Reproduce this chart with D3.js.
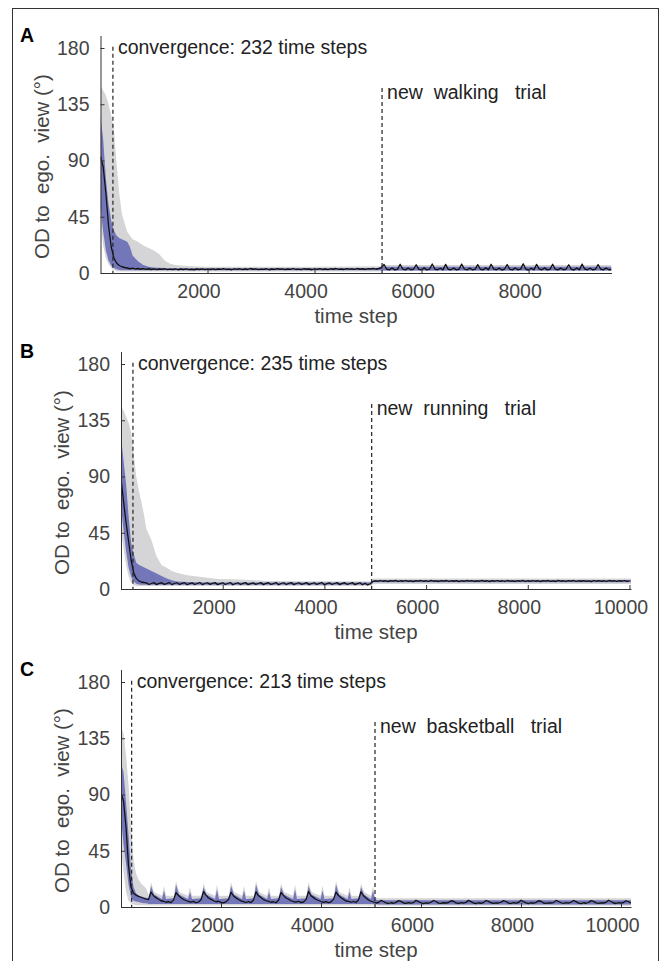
<!DOCTYPE html>
<html>
<head>
<meta charset="utf-8">
<script src="https://cdn.jsdelivr.net/npm/d3@7"></script>
<style>
  body { margin: 0; background: #fff; }
  svg { display: block; }
</style>
</head>
<body>
<svg id="chart" width="668" height="961"></svg>
<script>
const FONT = '"Liberation Sans", Arial, Helvetica, sans-serif';

// mean angle per time step, sampled every 50 steps from t = 0
const meanStep = 50;
const meanA = [93,85,64,38,21,12,8,6,5,4.4,4.0,3.4,3.9,3.2,3.6,3.0,3.5,2.9,3.4,2.8,3.3,2.7,3.2,2.9,3.4,2.7,3.1,2.8,3.3,2.6,3.2,2.8,3.3,2.7,3.0,2.6,3.2,2.8,3.3,2.7,3.1,
  2.8,3.3,2.7,3.2,2.9,3.5,2.8,3.1,2.6,3.3, 2.9,3.4,2.7,3.2,2.8,3.6,3.0,3.3,2.7,3.1,
  2.9,3.4,2.6,3.2,2.8,3.5,3.0,3.3,2.7,3.2, 2.9,3.6,2.8,3.1,2.7,3.4,3.0,3.2,2.6,3.3,
  2.9,3.5,2.8,3.2,2.7,3.4,3.0,3.6,2.9,3.2, 2.8,3.5,3.1,3.3,2.9,3.6,3.0,3.4,2.8,3.5,
  3.2,3.7,3.0,3.6,4.2,
  6.8,3.0,2.6,4.0,2.5,2.9, 7.0,3.1,2.5,3.9,2.6,3.0, 6.6,2.9,2.5,4.1,2.4,3.1, 7.2,3.0,2.6,3.8,2.5,
  6.9,2.9,2.6,4.0,2.5,3.0, 7.1,3.2,2.4,3.9,2.6,2.9, 6.7,3.0,2.5,4.2,2.5, 7.0,3.1,2.6,3.9,2.4,3.0,
  6.8,2.9,2.5,4.0,2.6,3.1, 7.3,3.0,2.4,3.8,2.5, 6.9,3.1,2.6,4.1,2.5,2.9, 7.0,3.0,2.5,3.9,2.6,3.0,
  6.6,2.9,2.4,4.0,2.5, 7.1,3.2,2.6,3.8,2.5,3.0, 6.8,3.0,2.5,4.0,2.6,2.8];

const meanB = [88.5,70,53,38,23,13,8.5,6.5,5.6,5.2,4.9,
  3.6,4.4,5.1, 3.5,4.5,5.0, 3.7,4.3,5.2, 3.5,4.4,5.0, 3.6,4.5,5.1, 3.4,4.3,4.9, 3.6,4.4,5.2, 3.5,4.4,5.0, 3.7,4.5,5.1, 3.5,4.3,5.0,
  3.6,4.4,5.2, 3.4,4.4,5.0, 3.6,4.5,5.1, 3.5,4.3,4.9, 3.7,4.4,5.1, 3.5,4.5,5.0, 3.6,4.3,5.2, 3.4,4.4,5.0, 3.6,4.5,5.1, 3.5,4.4,5.0,
  3.7,4.3,5.1, 3.5,4.4,5.0, 3.6,4.5,5.2, 3.4,4.3,4.9, 3.6,4.4,5.1, 3.5,4.5,5.0, 3.6,4.4,5.1, 3.5,4.3,5.0, 3.4,4.6,3.2,4.2,
  5.8,6.5,6.1,6.8,6.2,6.6,5.9,6.7,6.3,6.9, 6.0,6.6,6.2,6.8,6.1,6.5,5.9,6.7,6.3,6.8,
  6.1,6.6,6.0,6.9,6.2,6.5,6.0,6.7,6.3,6.8, 6.0,6.6,6.2,6.7,5.9,6.6,6.1,6.8,6.3,6.7,
  6.0,6.5,6.2,6.9,6.1,6.6,5.9,6.7,6.2,6.8, 6.1,6.6,6.0,6.8,6.3,6.5,6.0,6.7,6.2,6.9,
  6.0,6.6,6.1,6.8,6.2,6.6,5.9,6.7,6.3,6.8, 6.1,6.5,6.0,6.9,6.2,6.6,6.0,6.7,6.3,6.8,
  6.0,6.6,6.2,6.7,6.1,6.5,5.9,6.8,6.2,6.7, 6.1,6.6,6.0,6.8,6.3,6.6,6.0,6.7,6.2,6.8, 6.1,6.5];

const meanC = [91,85,64,33,16,11,9.5,8.5,7.8,7.0,6.3,
  6.0, 12.0, 9.0,7.5,6.2,5.0,4.6,3.8,4.3,3.5,5.5,
  11.5, 9.2,7.4,6.0,5.2,4.4,3.9,4.5,3.4,4.0,5.8,
  12.3, 9.5,7.2,6.1,5.0,4.2,4.6,3.7,3.3,4.1,6.0,
  11.8, 8.8,7.3,6.0,4.9,4.3,3.6,4.4,3.5,5.6,
  12.1, 9.1,7.6,5.9,5.1,4.5,3.8,4.2,3.4,5.4,
  11.6, 9.3,7.2,6.2,5.0,4.3,3.9,4.6,3.5,4.0,5.9,
  12.4, 9.0,7.5,6.0,5.2,4.4,3.7,4.3,3.4,4.1,6.1,
  11.9, 9.2,7.4,6.1,4.8,4.5,3.8,4.4,3.6,5.7,
  12.2, 9.0,7.2,5.6,4.6,4.0,
  3.2,3.6,5.3,4.4,3.3,2.8,3.4, 3.0,3.7,5.1,4.5,3.2,2.9,3.5, 3.1,3.5,5.4,4.3,3.4,2.7,3.3,
  3.0,3.8,5.2,4.4,3.1,2.9,3.4, 3.2,3.6,5.0,4.6,3.3,2.8,3.5, 3.1,3.7,5.3,4.3,3.2,2.7,3.4,
  3.0,3.5,5.2,4.5,3.4,2.9,3.3, 3.2,3.8,5.1,4.4,3.1,2.8,3.5, 3.1,3.6,5.4,4.3,3.3,2.7,3.4,
  3.0,3.7,5.0,4.6,3.2,2.9,3.3, 3.2,3.5,5.3,4.4,3.4,2.8,3.5, 3.1,3.8,5.2,4.3,3.1,2.7,3.4,
  3.0,3.6,5.1,4.5,3.3,2.9,3.3, 3.2,3.7,5.4,4.4,3.2,2.8,3.5, 3.1,3.6,5.0,4.2,3.3];

// spread bands: grey = full range, blue = inner spread
const bandTA = [0,50,100,150,200,250,300,350,400,450,500,550,600,700,800,900,1000,1100,1200,1300,1400,1500,1700,2000,3000,4000,5200,5300,6000,7000,8000,9000,9550];
const grayHiA = [150,146,142,135,126,115,88,64,47,40,33,30,27,25,22,20,18,15,10,7.5,6.5,6,5.5,5,5,5,5.5,6.5,6.5,6.5,6.5,6.5,6.5];
const grayLoA = [40,22,12,7,4,2.5,1.5,1.2,1.2,1.2,1.2,1.2,1.2,1.2,1.2,1.2,1.2,1.2,1.2,1.2,1.2,1.2,1.2,1.2,1.2,1.2,1.2,1.8,1.8,1.8,1.8,1.8,1.8];
const blueHiA = [125,107,76,55,42,34,30,28,27,26,25,21,14,9.5,6.5,5,4.5,4.2,4,3.9,3.8,3.8,3.8,3.8,3.8,3.8,4,5,5,5,5,5,5];
const blueLoA = [53,33,18,10,6,4,3,2.5,2.3,2.2,2.2,2.2,2.2,2.2,2.2,2.2,2.2,2.2,2.2,2.2,2.2,2.2,2.2,2.2,2.2,2.2,2.2,2,2,2,2,2,2];

const bandTB = [0,50,100,150,200,250,300,350,400,450,500,600,700,800,900,1000,1100,1300,1500,1900,2200,2900,4000,4920,4960,6000,8000,10030];
const grayHiB = [146,143,138,133,125,108,90,79,70,60,48,39,26,19,17,14.5,13,11,10,8,7.8,6.5,6.2,6.2,8.5,8.5,8.5,8.5];
const grayLoB = [47,32,19,10,5,3,2.5,2.5,2.5,2.5,2.5,2.5,2.5,2.5,2.5,2.5,2.5,2.5,2.5,2.5,2.5,2.5,2.5,2.5,4,4,4,4];
const blueHiB = [122,103,84,58,37,28,21,19.5,18.5,17.5,16.5,14.5,12.5,10.5,8.5,7,6,5.6,5.4,5.3,5.3,5.3,5.3,5.3,7.2,7.2,7.2,7.2];
const blueLoB = [66,47,30,17,10,6,4.2,3.7,3.5,3.5,3.5,3.5,3.5,3.5,3.5,3.5,3.5,3.5,3.5,3.5,3.5,3.5,3.5,3.5,5.4,5.4,5.4,5.4];

const bandTC = [0,50,100,150,200,250,300,350,400,450,500,
  560,600,660, 820,860,900, 1060,1100,1160, 1340,1380,1420, 1610,1650,1710, 1880,1920,1960,
  2160,2200,2260, 2420,2460,2500, 2660,2700,2760, 2920,2960,3000, 3160,3200,3260, 3440,3480,3520,
  3710,3750,3810, 3990,4030,4070, 4260,4300,4360, 4530,4570,4610, 4760,4800,4860, 5000,5040,5080,
  5150,10200];
const grayHiC = [144,139,122,98,65,38,27,22,19,17,15,
  9,20,12, 9,17,9, 9,21,12, 9,16,9, 9,19,12, 9,18,9,
  9,20,12, 9,17,9, 9,21,12, 9,16,9, 9,19,12, 9,18,9,
  9,20,12, 9,17,9, 9,21,12, 9,16,9, 9,19,12, 9,17,8,
  7,7];
const grayLoC = [45,28,12,5,3,2,1.5,1.5,1.5,1.5,1.5,
  1.2,1.2,1.2, 1.2,1.2,1.2, 1.2,1.2,1.2, 1.2,1.2,1.2, 1.2,1.2,1.2, 1.2,1.2,1.2,
  1.2,1.2,1.2, 1.2,1.2,1.2, 1.2,1.2,1.2, 1.2,1.2,1.2, 1.2,1.2,1.2, 1.2,1.2,1.2,
  1.2,1.2,1.2, 1.2,1.2,1.2, 1.2,1.2,1.2, 1.2,1.2,1.2, 1.2,1.2,1.2, 1.2,1.2,1.2,
  1,1];
const blueHiC = [115,108,84,58,30,16,11,9.5,8.5,8,7.5,
  7,17,10, 6.5,13,6.5, 7,18,10, 6.5,12,6.5, 7,16,10, 6.5,14,6.5,
  7,17,10, 6.5,13,6.5, 7,18,10, 6.5,12,6.5, 7,16,10, 6.5,14,6.5,
  7,17,10, 6.5,13,6.5, 7,18,10, 6.5,12,6.5, 7,16,10, 6.5,13,6,
  5.5,5.5];
const blueLoC = [72,50,35,18,8,5,4.5,4,3.5,3,3,
  2.5,2.5,2.5, 2.5,2.5,2.5, 2.5,2.5,2.5, 2.5,2.5,2.5, 2.5,2.5,2.5, 2.5,2.5,2.5,
  2.5,2.5,2.5, 2.5,2.5,2.5, 2.5,2.5,2.5, 2.5,2.5,2.5, 2.5,2.5,2.5, 2.5,2.5,2.5,
  2.5,2.5,2.5, 2.5,2.5,2.5, 2.5,2.5,2.5, 2.5,2.5,2.5, 2.5,2.5,2.5, 2.5,2.5,2.5,
  2,2];

const yTicks = [0, 45, 90, 135, 180];
const xTicksA = [2000, 4000, 6000, 8000];
const xTicksBC = [2000, 4000, 6000, 8000, 10000];
const convergence = [232, 235, 213];
const trialStart = [5262, 4930, 5080];
const trialNames = ['walking', 'running', 'basketball'];
const letters = ['A', 'B', 'C'];

const panels = [
  {letter: letters[0], left: 100.5, right: 611.5, base: 273, xMax: 9550, xTicks: xTicksA,
   conv: convergence[0], trial: trialStart[0], name: trialNames[0], mean: meanA,
   bandT: bandTA, grayLo: grayLoA, grayHi: grayHiA, blueLo: blueLoA, blueHi: blueHiA},
  {letter: letters[1], left: 121, right: 631, base: 589, xMax: 10030, xTicks: xTicksBC,
   conv: convergence[1], trial: trialStart[1], name: trialNames[1], mean: meanB,
   bandT: bandTB, grayLo: grayLoB, grayHi: grayHiB, blueLo: blueLoB, blueHi: blueHiB},
  {letter: letters[2], left: 121, right: 631, base: 907, xMax: 10200, xTicks: xTicksBC,
   conv: convergence[2], trial: trialStart[2], name: trialNames[2], mean: meanC,
   bandT: bandTC, grayLo: grayLoC, grayHi: grayHiC, blueLo: blueLoC, blueHi: blueHiC}
];

const svg = d3.select('#chart').attr('font-family', FONT);

// outer frame (bottom edge is cut off in the figure)
svg.append('rect')
  .attr('x', 12.5).attr('y', 8.5).attr('width', 646).attr('height', 1000)
  .attr('fill', 'none').attr('stroke', '#333').attr('stroke-width', 1);

function drawPanel(p) {
  const x = d3.scaleLinear().domain([0, p.xMax]).range([p.left, p.right]);
  const y = d3.scaleLinear().domain([0, 190]).range([p.base, p.base - 237.5]);
  const g = svg.append('g');

  const clipId = 'clip' + p.letter;
  g.append('clipPath').attr('id', clipId).append('rect')
    .attr('x', p.left).attr('y', y(190))
    .attr('width', p.right - p.left).attr('height', p.base - y(190));

  const band = p.bandT.map((t, i) => ({t, gLo: p.grayLo[i], gHi: p.grayHi[i], bLo: p.blueLo[i], bHi: p.blueHi[i]}));
  const plot = g.append('g').attr('clip-path', `url(#${clipId})`);

  plot.append('path').datum(band)
    .attr('fill', '#d5d5d8')
    .attr('d', d3.area().x(d => x(d.t)).y0(d => y(d.gLo)).y1(d => y(d.gHi)));
  plot.append('path').datum(band)
    .attr('fill', '#7377b9')
    .attr('d', d3.area().x(d => x(d.t)).y0(d => y(d.bLo)).y1(d => y(d.bHi)));
  plot.append('path').datum(p.mean)
    .attr('fill', 'none').attr('stroke', '#111').attr('stroke-width', 1.3)
    .attr('stroke-linejoin', 'round')
    .attr('d', d3.line().x((d, i) => x(i * meanStep)).y(d => y(d)));

  // axes, matlab style inward ticks
  const yAxis = g.append('g').attr('transform', `translate(${p.left},0)`)
    .call(d3.axisLeft(y).tickValues(yTicks).tickSizeInner(-4).tickSizeOuter(0).tickPadding(11));
  const xAxis = g.append('g').attr('transform', `translate(0,${p.base})`)
    .call(d3.axisBottom(x).tickValues(p.xTicks).tickSizeInner(-4).tickSizeOuter(0).tickPadding(10.7)
      .tickFormat(d3.format('d')));
  xAxis.selectAll('.tick text').attr('dx', -9);

  [yAxis, xAxis].forEach(a => {
    a.attr('font-family', FONT).attr('font-size', 19.5);
    a.select('.domain').attr('stroke', '#333');
    a.selectAll('.tick line').attr('stroke', '#333');
    a.selectAll('.tick text').attr('fill', '#444');
  });

  // axis titles
  g.append('text')
    .attr('x', (p.left + p.right) / 2).attr('y', p.base + 50)
    .attr('text-anchor', 'middle').attr('font-size', 20.5).attr('fill', '#444')
    .text('time step');
  g.append('text')
    .attr('transform', `translate(${p.left - 52},${y(90) + 6}) rotate(-90)`)
    .attr('text-anchor', 'middle').attr('font-size', 20.5).attr('fill', '#444')
    .attr('xml:space', 'preserve').style('white-space', 'pre')
    .text('OD to  ego.  view (\u00b0)');

  // panel letter
  g.append('text')
    .attr('x', 20).attr('y', y(180) - 6)
    .attr('font-size', 19.5).attr('font-weight', 'bold').attr('fill', '#000')
    .text(p.letter);

  // convergence marker
  g.append('line')
    .attr('x1', x(p.conv)).attr('x2', x(p.conv)).attr('y1', y(181)).attr('y2', y(0))
    .attr('stroke', '#222').attr('stroke-width', 1.2).attr('stroke-dasharray', '4,3');
  g.append('text')
    .attr('x', x(p.conv) + 5).attr('y', y(175))
    .attr('font-size', 19.5).attr('fill', '#222')
    .text(`convergence: ${p.conv} time steps`);

  // new trial marker
  g.append('line')
    .attr('x1', x(p.trial)).attr('x2', x(p.trial)).attr('y1', y(148)).attr('y2', y(0))
    .attr('stroke', '#222').attr('stroke-width', 1.2).attr('stroke-dasharray', '4,3');
  g.append('text')
    .attr('x', x(p.trial) + 5).attr('y', y(139))
    .attr('font-size', 19.5).attr('fill', '#222')
    .attr('xml:space', 'preserve').style('white-space', 'pre')
    .text(`new  ${p.name}   trial`);
}

panels.forEach(drawPanel);
</script>
</body>
</html>
